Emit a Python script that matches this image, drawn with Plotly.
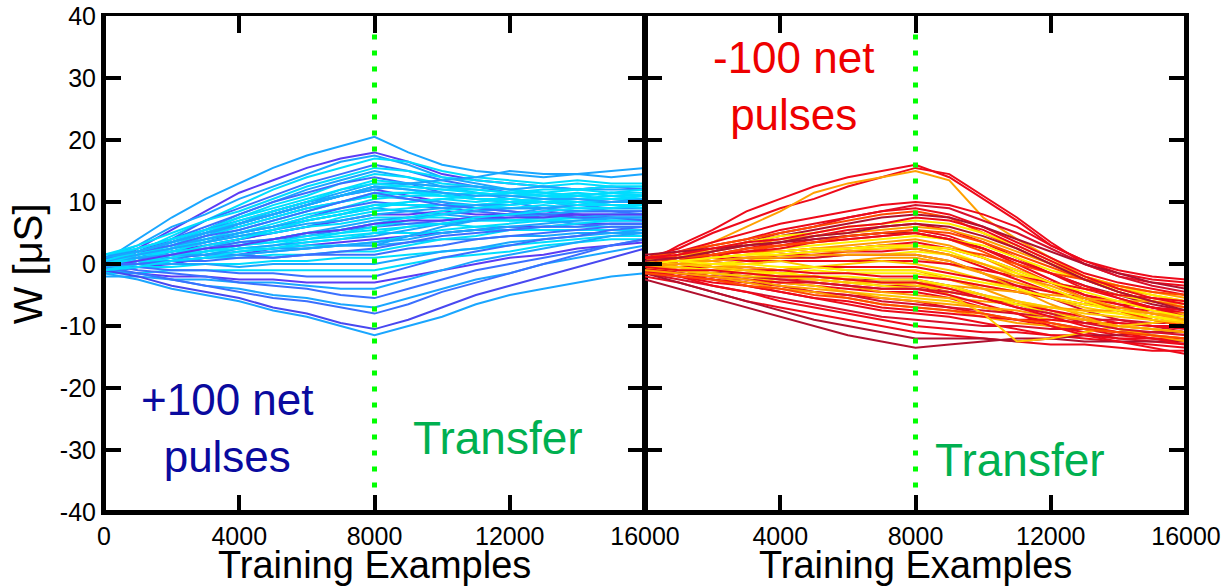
import plotly.graph_objects as go

# Training-example checkpoints (every 1000 examples)
steps = list(range(0, 16001, 1000))

# ---- +100 net pulses: conductance traces W [uS] at each checkpoint ----
p01 = [0.5, 4, 7.5, 10.5, 13, 15.5, 17.5, 19, 20.5, 18, 16, 15, 14.5, 14, 14.5, 14, 14.5]
p02 = [-0.5, 2.5, 5.5, 8.5, 11.5, 13.5, 15.5, 17, 18, 16.5, 14.5, 13.5, 13, 12.5, 12, 12.5, 12]
p03 = [1, 3, 6, 8, 10.5, 12.5, 14.5, 16.5, 17.5, 16, 14, 13, 12, 11.5, 11, 11.5, 11]
p04 = [0, 2, 4.5, 7, 9.5, 12, 14, 15.5, 17, 16.5, 15, 14, 13.5, 13, 13.5, 13, 13]
p05 = [-1, 1.5, 4, 7, 9, 11, 13, 14.5, 16, 15, 13.5, 12.5, 11.5, 11, 10.5, 10, 10]
p06 = [1.5, 3, 5, 7, 8.5, 10.5, 12.5, 14, 15.5, 15, 14, 13.5, 13, 12.5, 13, 12.5, 12.5]
p07 = [0, 2, 3.5, 5.5, 8, 10, 12, 13.5, 15, 14, 12.5, 11.5, 10.5, 10, 9.5, 9, 9]
p08 = [-0.5, 1.5, 3.5, 5.5, 7.5, 9.5, 11, 13, 14.5, 14, 13, 12.5, 12, 11.5, 11, 11.5, 11]
p09 = [0.5, 2, 4, 6, 8, 10, 11.5, 13, 14, 13, 11.5, 10.5, 10, 9, 8.5, 8.5, 8]
p10 = [1, 2.5, 4, 5.5, 7.5, 9, 10.5, 12, 13.5, 13, 12.5, 12, 11.5, 11, 11, 10.5, 10.5]
p11 = [-1, 0.5, 2.5, 4.5, 6.5, 8.5, 10, 11.5, 13, 13, 12.5, 12.5, 12, 12.5, 12, 12, 12]
p12 = [0, 1.5, 3, 5, 6.5, 8, 9.5, 11, 12.5, 12, 11, 10.5, 10, 10, 9.5, 9.5, 9.5]
p13 = [0.5, 2, 3.5, 5, 6.5, 8, 9.5, 11, 12, 11, 10, 9, 8.5, 8, 8, 7.5, 7.5]
p14 = [-0.5, 1, 2.5, 4, 5.5, 7, 8.5, 10, 11.5, 11.5, 11, 10.5, 10.5, 10, 10, 10, 10]
p15 = [1, 2, 3.5, 5, 6, 7.5, 9, 10, 11, 10.5, 10, 9.5, 9, 9, 8.5, 8.5, 8.5]
p16 = [0, 1, 2.5, 3.5, 5, 6.5, 8, 9, 10.5, 11, 11, 11.5, 11, 11, 11.5, 11, 11]
p17 = [-1, 0.5, 2, 3.5, 5, 6, 7.5, 9, 10, 9.5, 9, 8.5, 8, 7.5, 7.5, 7, 7]
p18 = [0.5, 1.5, 2.5, 4, 5, 6, 7.5, 8.5, 9.5, 9.5, 9.5, 9, 9, 9.5, 9, 9, 9]
p19 = [1.5, 2, 3, 4, 5, 6, 7, 8, 9, 8.5, 8, 7.5, 7, 7, 6.5, 6.5, 6.5]
p20 = [-0.5, 0.5, 1.5, 2.5, 4, 5, 6, 7.5, 8.5, 9, 9.5, 9.5, 10, 10, 10, 10, 10]
p21 = [0, 1, 2, 3, 4, 5, 6, 7, 8, 8, 8.5, 8, 8, 8.5, 8, 8, 8]
p22 = [1, 1.5, 2.5, 3.5, 4.5, 5, 6, 6.5, 7.5, 7.5, 7.5, 7, 7, 7, 7, 7, 7]
p23 = [-1.5, -0.5, 0.5, 2, 3, 4, 5, 6, 7, 7.5, 8, 8.5, 9, 9, 9.5, 9.5, 9.5]
p24 = [0, 1, 1.5, 2.5, 3.5, 4, 5, 5.5, 6.5, 6.5, 6.5, 6, 6, 6, 6, 6, 6]
p25 = [0.5, 1, 2, 2.5, 3.5, 4, 4.5, 5.5, 6, 6.5, 7, 7.5, 8, 8, 8.5, 8.5, 8.5]
p26 = [-0.5, 0, 1, 1.5, 2.5, 3, 4, 5, 5.5, 6, 6.5, 7, 7, 7.5, 7.5, 7.5, 7.5]
p27 = [1, 1.5, 2, 2.5, 3, 3.5, 4, 4.5, 5, 5, 5, 5.5, 5.5, 5.5, 5.5, 5.5, 5.5]
p28 = [0, 0.5, 1, 1.5, 2.5, 3, 3.5, 4, 4.5, 5.5, 6.5, 7, 7.5, 8, 8.5, 9, 9]
p29 = [-1, -0.5, 0, 1, 1.5, 2.5, 3, 3.5, 4, 4.5, 5, 5.5, 6, 6, 6.5, 6.5, 6.5]
p30 = [0.5, 1, 1.5, 2, 2.5, 2.5, 3, 3, 3.5, 4.5, 5.5, 6, 6.5, 7, 7.5, 8, 8]
p31 = [-0.5, 0, 0.5, 1, 1.5, 2, 2.5, 3, 3, 3.5, 4, 4, 4.5, 4.5, 5, 5, 5]
p32 = [0, 0.5, 0.5, 1, 1, 1.5, 1.5, 2, 2, 3, 4, 4.5, 5.5, 6, 6.5, 7, 7]
p33 = [1, 1, 1, 1.5, 1.5, 1, 1.5, 1.5, 1.5, 2.5, 3, 4, 4.5, 5, 5.5, 6, 6]
p34 = [-1, -0.5, -0.5, 0, 0, 0.5, 0.5, 1, 1, 1.5, 2, 2.5, 3, 3.5, 4, 4.5, 4.5]
p35 = [0.5, 0, 0, 0, -0.5, 0, 0, 0, 0, 1, 2, 2.5, 3.5, 4, 4.5, 5, 5.5]
p36 = [-1.5, -1.5, -1, -1, -1, -1, -1, -1, -1, 0, 1, 1.5, 2, 3, 3.5, 4, 4]
p37 = [0, -0.5, -1, -1, -1.5, -1.5, -2, -2, -2, -0.5, 1, 2, 3, 4, 4.5, 5.5, 6]
p38 = [-1, -1.5, -2, -2, -2.5, -2.5, -3, -3, -3, -2, -1, 0, 1, 1.5, 2.5, 3, 3.5]
p39 = [-2, -2, -2.5, -2.5, -3, -3, -3.5, -4, -4, -2.5, -1, 0.5, 1.5, 2.5, 3.5, 4.5, 5]
p40 = [0, -1, -1.5, -2, -3, -3.5, -4, -5, -5.5, -4, -2.5, -1, 0, 1, 2, 3, 4]
p41 = [-1, -1.5, -2.5, -3.5, -4, -5, -5.5, -6.5, -7, -5.5, -4, -2.5, -1.5, 0, 1, 2, 3]
p42 = [-0.5, -1.5, -2.5, -3.5, -4.5, -5.5, -6, -7, -8, -6.5, -4.5, -3, -1.5, 0, 1.5, 3, 4]
p43 = [-1, -2, -3.5, -4.5, -5.5, -7, -8, -9.5, -10.5, -9, -7, -5, -3.5, -2, -0.5, 1, 2.5]
p44 = [-1.5, -2.5, -4, -5, -6, -7.5, -8.5, -10, -11.5, -10, -8.5, -6.5, -5, -4, -3, -2, -1.5]
p45 = [0, 1, 2, 3.5, 4.5, 5.5, 7, 8, 9, 10, 10.5, 11, 11.5, 12, 12, 12.5, 12.5]
p46 = [-1, 0, 1, 2, 3, 4, 5, 5.5, 6.5, 7.5, 8.5, 9.5, 10, 10.5, 11, 11.5, 11.5]
p47 = [0.5, 1, 1.5, 1.5, 2, 2.5, 2.5, 3, 3, 4.5, 6, 7, 8, 9, 9.5, 10, 10.5]
p48 = [1, 2.5, 4, 5.5, 7, 8.5, 10, 11, 12, 13, 13.5, 14, 15, 14.5, 14.5, 15, 15.5]
p49 = [0, 1.5, 3, 4.5, 6, 7.5, 9, 10, 11, 11.5, 11.5, 11, 11.5, 11, 10.5, 11, 10.5]
p50 = [0.5, 1.5, 2.5, 3.5, 4.5, 5.5, 6.5, 7, 8, 8.5, 9, 9.5, 9.5, 10, 9.5, 10, 10.5]
p51 = [-1, 0, 1.5, 3, 4, 5.5, 7, 8, 9.5, 10, 10.5, 10, 10.5, 10, 9.5, 9.5, 9]
p52 = [1, 2, 3, 4.5, 5.5, 7, 8.5, 10, 11.5, 10.5, 9.5, 9, 8.5, 8, 7.5, 7.5, 7]
p53 = [0, 0.5, 1.5, 2, 3, 3.5, 4.5, 5, 6, 7, 8, 9, 9.5, 10, 10.5, 10.5, 11]
p54 = [-0.5, 0.5, 1.5, 2.5, 3, 4, 5, 5.5, 6.5, 7, 7, 7.5, 7.5, 7.5, 8, 8, 8]
p55 = [1.5, 2.5, 4, 5.5, 6.5, 8, 9.5, 11, 12.5, 12.5, 12, 12, 11.5, 11.5, 12, 11.5, 12]
p56 = [-0.5, 0, 0.5, 1, 1.5, 2, 2.5, 3, 3.5, 4, 5, 5.5, 6, 6.5, 7, 7.5, 7.5]
p57 = [0.5, 2, 3.5, 5, 7, 8.5, 10, 12, 13, 12.5, 12, 11.5, 11, 10.5, 10, 9.5, 9.5]
p58 = [0, 0, 0.5, 0.5, 1, 1, 1.5, 2, 2.5, 3.5, 4.5, 5, 5.5, 6, 6, 6.5, 6.5]
p59 = [-1, -0.5, 0.5, 1, 2, 2.5, 3.5, 4, 5, 6, 6.5, 7.5, 8, 8.5, 9, 9, 9.5]
p60 = [1, 2, 3.5, 5, 6.5, 8, 9.5, 11, 12.5, 12, 11.5, 11, 11, 10.5, 10.5, 10, 10]

# ---- -100 net pulses: conductance traces W [uS] at each checkpoint ----
m01 = [0, 3, 5.5, 8.5, 10.5, 12.5, 14, 15, 16, 14, 10.5, 7, 3, 0.5, -1, -2, -2.5]
m02 = [1, 2.5, 5, 7, 9, 10.5, 12.5, 14, 15.5, 14.5, 11, 7.5, 3.5, 0, -2, -3, -3.5]
m03 = [-0.5, 1.5, 3.5, 6, 8.5, 11.5, 13, 14, 15, 13.5, 7.5, 4, 1, -2, -4, -5, -6]
m04 = [0.5, 2, 3.5, 5, 6.5, 7.5, 8.5, 9.5, 10, 9.5, 8, 6, 3, 0.5, -1.5, -2.5, -3]
m05 = [-1, 0.5, 2, 3.5, 5, 6, 7.5, 8.5, 9.5, 9, 7, 5, 2.5, 0, -2, -3.5, -4.5]
m06 = [0, 1.5, 3, 4, 5.5, 6.5, 7.5, 8.5, 9, 8, 6, 3.5, 1, -1.5, -3, -4, -5]
m07 = [1, 2, 3, 4, 5, 6, 7, 8, 8.5, 7.5, 5, 2.5, 0, -2.5, -4.5, -6, -7]
m08 = [-0.5, 1, 2, 3.5, 4.5, 5.5, 6.5, 7.5, 8, 7.5, 6, 4, 2, 0, -1.5, -3, -4]
m09 = [0, 1, 2.5, 3.5, 4.5, 5, 6, 6.5, 7, 6.5, 5, 3, 0.5, -2, -3.5, -5, -6]
m10 = [-1, 0, 1, 2.5, 3.5, 4.5, 5.5, 6, 6.5, 5.5, 3.5, 1, -1.5, -4, -5.5, -7, -8]
m11 = [0.5, 1.5, 2, 3, 4, 4.5, 5, 5.5, 6, 5.5, 4, 2, 0, -2, -3.5, -4.5, -5.5]
m12 = [0, 0.5, 1.5, 2.5, 3, 4, 4.5, 5, 5.5, 4.5, 2.5, 0, -2.5, -5, -6.5, -8, -9]
m13 = [1.5, 2, 2.5, 3, 3.5, 4, 4.5, 5, 5, 4, 2.5, 0.5, -1.5, -3.5, -5, -6.5, -7.5]
m14 = [-0.5, 0, 1, 1.5, 2.5, 3, 3.5, 4, 4.5, 4, 3, 1, -1, -2.5, -4, -5.5, -6.5]
m15 = [0, 0.5, 1, 1.5, 2, 2.5, 3, 3.5, 4, 3, 1, -1.5, -4, -6, -7.5, -9, -10]
m16 = [-1.5, -1, 0, 0.5, 1.5, 2, 2.5, 3, 3.5, 2.5, 1, -1, -3, -5, -6, -7, -8]
m17 = [1, 1, 1.5, 2, 2, 2.5, 2.5, 3, 3, 2.5, 1.5, 0, -1.5, -2.5, -3.5, -4.5, -5]
m18 = [0, 0.5, 0.5, 1, 1.5, 1.5, 2, 2, 2.5, 1.5, -0.5, -2.5, -4.5, -6, -7.5, -8.5, -9.5]
m19 = [-1, -0.5, 0, 0.5, 1, 1, 1.5, 1.5, 2, 1.5, 0, -1.5, -3, -4, -5, -6, -7]
m20 = [0.5, 0.5, 1, 1, 1, 1, 1.5, 1.5, 1.5, 0.5, -1.5, -3.5, -5.5, -7.5, -9, -10, -11]
m21 = [-0.5, -0.5, 0, 0, 0.5, 0.5, 0.5, 1, 1, 0, -1.5, -3, -4.5, -6, -7, -8, -8.5]
m22 = [1, 1, 1, 0.5, 0.5, 0.5, 0.5, 0.5, 0.5, 0, -1, -2, -3, -4, -5, -5.5, -6]
m23 = [0, 0.5, -0.5, 0, 0.5, -0.5, 0, 0.5, 0, -1, -2.5, -4, -5.5, -7, -8, -9, -10]
m24 = [-1, -0.5, -1, -0.5, -1, -0.5, -0.5, -0.5, -0.5, -1.5, -2.5, -3.5, -4.5, -5.5, -6.5, -7, -7.5]
m25 = [0.5, 0, -0.5, -0.5, -1, -0.5, -1, -1, -1, -2.5, -4, -6, -7.5, -9, -10.5, -11.5, -12]
m26 = [-0.5, -0.5, -1, -1, -1.5, -1, -1.5, -1.5, -1.5, -2.5, -3.5, -4.5, -5.5, -6.5, -7.5, -8.5, -9]
m27 = [0, -0.5, -0.5, -1, -1, -1.5, -1.5, -2, -2, -2.5, -3.5, -4.5, -5.5, -6.5, -7, -7.5, -8]
m28 = [-1, -1, -1.5, -1.5, -2, -2, -2.5, -2.5, -2.5, -3.5, -5, -6.5, -8, -9, -10, -10.5, -11]
m29 = [0.5, 0, -0.5, -1, -1.5, -2, -2.5, -3, -3, -3.5, -4, -4.5, -5, -5.5, -6, -6, -6.5]
m30 = [-0.5, -1, -1.5, -2, -2.5, -2.5, -3, -3.5, -3.5, -4.5, -5.5, -6.5, -7.5, -8.5, -9.5, -10, -10.5]
m31 = [0, -0.5, -1, -1.5, -2, -2.5, -3, -3.5, -4, -4.5, -5.5, -6, -7, -7.5, -8, -8.5, -9]
m32 = [-1, -1.5, -2, -2.5, -3, -3.5, -4, -4.5, -4.5, -5.5, -7, -8, -9.5, -10.5, -11.5, -12, -12.5]
m33 = [-0.5, -1, -1.5, -2, -2.5, -3, -3.5, -4.5, -5, -5.5, -6, -6.5, -7, -7.5, -7.5, -8, -8]
m34 = [0, -0.5, -1.5, -2, -3, -3.5, -4.5, -5, -5.5, -6, -7, -8, -9, -9.5, -10, -10.5, -11]
m35 = [-1.5, -2, -2.5, -3, -3.5, -4.5, -5, -5.5, -6, -7, -8, -9, -10, -11, -12, -12.5, -13]
m36 = [-0.5, -1.5, -2, -3, -3.5, -4.5, -5, -6, -6.5, -7, -7.5, -8, -8.5, -9, -9, -9.5, -9.5]
m37 = [0, -1, -2, -3, -4, -4.5, -5.5, -6.5, -7, -7.5, -8.5, -9.5, -10, -10.5, -11, -11.5, -12]
m38 = [-1, -2, -3, -3.5, -4.5, -5.5, -6, -7, -7.5, -8, -8.5, -9, -9, -9.5, -9.5, -10, -10]
m39 = [-0.5, -1.5, -2.5, -3.5, -4.5, -5.5, -6.5, -7.5, -8, -8.5, -9.5, -10.5, -11.5, -12, -12.5, -13, -13.5]
m40 = [-1.5, -2.5, -3.5, -4.5, -5.5, -6.5, -7.5, -8.5, -9, -9.5, -10, -10, -10.5, -10.5, -11, -11, -11]
m41 = [-1, -2, -3.5, -4.5, -6, -7, -8, -9, -10, -10.5, -11, -11, -11.5, -11.5, -12, -12, -12]
m42 = [-2, -3, -4.5, -6, -7, -8, -9, -10, -11, -11.5, -12, -12.5, -13, -13, -13.5, -14, -14]
m43 = [-1.5, -3, -4.5, -6, -7.5, -9, -10, -11, -12, -12, -12, -12.5, -12, -12.5, -12.5, -12.5, -12.5]
m44 = [-2.5, -4, -5.5, -7, -8.5, -10, -11.5, -12.5, -13.5, -13, -12.5, -12, -12, -11.5, -11.5, -11, -11]
m45 = [0.5, 0, -0.5, -1, -1.5, -2, -2.5, -3, -3, -5, -8, -12.5, -12, -11, -10, -9.5, -9]
m46 = [-1, -1.5, -2, -2.5, -3, -3, -3.5, -4, -4, -5, -6.5, -8, -10, -11.5, -12.5, -13.5, -14.5]
m47 = [0, 0.5, 1, 1.5, 2, 2.5, 2.5, 3, 3, 2, 0, -2, -4, -6, -7.5, -9, -10]
m48 = [0, 0.5, 0.5, 1, 1, 1.5, 1.5, 1.5, 1.5, 0.5, -1.5, -4, -6.5, -8.5, -10.5, -11.5, -12.5]
m49 = [-0.5, -1, -1, -1.5, -1.5, -2, -2, -2.5, -2.5, -3.5, -5, -6.5, -8, -9, -10, -10.5, -11]
m50 = [0, 1, 1.5, 2, 3, 3.5, 4, 4.5, 5, 4, 2, -0.5, -3, -5.5, -7.5, -9, -10]
m51 = [0, 0.5, 1.5, 2, 2.5, 3.5, 4, 4.5, 5, 4, 2.5, 0.5, -1.5, -3.5, -5.5, -7, -8.5]
m52 = [-0.5, 0, 0.5, 1, 1.5, 2, 2, 2.5, 2.5, 1.5, 0, -2, -3.5, -5.5, -7, -8, -9]
m53 = [0.5, 0.5, 0, 0, -0.5, -0.5, -1, -1, -1, -2, -3, -4, -5.5, -6.5, -7.5, -8.5, -9.5]
m54 = [-1, -1.5, -2, -2, -2.5, -3, -3.5, -4, -4, -4.5, -5.5, -7, -8, -9.5, -10.5, -11, -11.5]
m55 = [0, 1, 1.5, 2.5, 3, 3.5, 4.5, 5, 5.5, 5, 3.5, 1.5, -0.5, -2.5, -4.5, -6, -7]
m56 = [-0.5, -1, -1.5, -2, -2, -2.5, -3, -3, -3.5, -4, -5, -6, -7, -8, -8.5, -9, -9.5]
m57 = [1, 1.5, 2.5, 3.5, 4, 5, 6, 6.5, 7.5, 7, 5.5, 3, 0.5, -2, -4, -5.5, -6.5]
m58 = [-1, -1.5, -2, -2.5, -3.5, -4, -4.5, -5.5, -6, -6.5, -7, -7.5, -8.5, -9, -10, -10.5, -11]
m59 = [0, 0.5, 1, 1.5, 1.5, 2, 2.5, 2.5, 3, 2.5, 1, -1, -3, -4.5, -6, -7.5, -8.5]
m60 = [-0.5, -1, -1, -1.5, -2, -2, -2.5, -3, -3, -4, -5.5, -7, -8.5, -10, -11, -12, -13]
m61 = [0.5, 1, 2, 3, 3.5, 4.5, 5, 6, 6.5, 6, 4.5, 2.5, 0, -2.5, -4.5, -6, -7.5]
m62 = [-1.5, -2, -2.5, -3.5, -4, -5, -5.5, -6.5, -7, -7.5, -8, -9, -9.5, -10.5, -11, -11.5, -12]

plus_series = [p01, p02, p03, p04, p05, p06, p07, p08, p09, p10, p11, p12, p13, p14, p15, p16,
               p17, p18, p19, p20, p21, p22, p23, p24, p25, p26, p27, p28, p29, p30, p31, p32,
               p33, p34, p35, p36, p37, p38, p39, p40, p41, p42, p43, p44, p45, p46, p47, p48,
               p49, p50, p51, p52, p53, p54, p55, p56, p57, p58, p59, p60]
minus_series = [m01, m02, m03, m04, m05, m06, m07, m08, m09, m10, m11, m12, m13, m14, m15, m16,
                m17, m18, m19, m20, m21, m22, m23, m24, m25, m26, m27, m28, m29, m30, m31, m32,
                m33, m34, m35, m36, m37, m38, m39, m40, m41, m42, m43, m44, m45, m46, m47, m48,
                m49, m50, m51, m52, m53, m54, m55, m56, m57, m58, m59, m60, m61, m62]

# Line colours (cool palette for potentiation, hot palette for depression)
CY, SK, BL, VI, VB = "#00DDFF", "#1AA6FF", "#3A70FF", "#5A3CF5", "#4848F0"
plus_colors = [SK, VI, SK, CY, BL, CY, SK, CY, BL, CY, SK, CY, VI, CY, SK, CY,
               BL, CY, SK, CY, VI, CY, SK, CY, BL, CY, CY, SK, VI, CY, SK, CY,
               BL, CY, SK, CY, BL, VI, SK, BL, SK, BL, VB, SK, CY, CY, SK, SK,
               CY, SK, CY, BL, CY, VI, CY, SK, CY, BL, CY, SK]
RD, CR, DR, OR, OG, YE, GD = "#EE0A1A", "#D8102C", "#B0102E", "#FF4A00", "#FFA000", "#FFEE00", "#FFC800"
minus_colors = [RD, RD, OG, RD, CR, RD, OR, DR, YE, RD, OG, RD, DR, YE, OG, RD,
                OR, RD, YE, CR, OG, RD, GD, RD, OG, YE, RD, DR, OG, RD, YE, RD,
                OG, GD, RD, CR, OG, RD, RD, CR, RD, RD, DR, DR, GD, RD, YE, OG,
                YE, OR, RD, OG, YE, CR, OR, GD, RD, OG, YE, RD, DR, OR]

fig = go.Figure()

for ys, col in zip(plus_series, plus_colors):
    fig.add_trace(go.Scatter(x=steps, y=ys, mode="lines", xaxis="x", yaxis="y",
                             line=dict(color=col, width=2), hoverinfo="skip"))
for ys, col in zip(minus_series, minus_colors):
    fig.add_trace(go.Scatter(x=steps, y=ys, mode="lines", xaxis="x2", yaxis="y2",
                             line=dict(color=col, width=2), hoverinfo="skip"))

# Transfer marker at 8000 examples in both panels
transfer_x = 8000
for xa, ya in (("x", "y"), ("x2", "y2")):
    fig.add_trace(go.Scatter(x=[transfer_x, transfer_x], y=[37, -37], mode="lines",
                             xaxis=xa, yaxis=ya, hoverinfo="skip",
                             line=dict(color="#00FF00", width=5, dash="5px,11px")))

FONT = "Arial, Liberation Sans, sans-serif"
x_ticks = [0, 4000, 8000, 12000, 16000]
y_ticks = [-40, -30, -20, -10, 0, 10, 20, 30, 40]
y_labels = ["-40", "-30", "-20", "-10", "0", "10", "20", "30", "40"]

axis_common = dict(range=[0, 16000], tickmode="array", tickvals=x_ticks, ticks="inside",
                   ticklen=17, tickwidth=4, tickcolor="black", showline=True, linewidth=3,
                   linecolor="black", mirror="ticks", showgrid=False, zeroline=False,
                   automargin=False,
                   tickfont=dict(family=FONT, size=25, color="black"))
y_common = dict(range=[-40, 40], tickmode="array", tickvals=y_ticks, ticktext=y_labels,
                ticks="inside", ticklen=17, tickwidth=4, tickcolor="black",
                showline=True, linewidth=3, linecolor="black", mirror="ticks",
                showgrid=False, zeroline=False, automargin=False,
                tickfont=dict(family=FONT, size=25, color="black"))

# Heavier outer frame edges
frame = [
    dict(type="line", xref="paper", yref="paper", x0=0, x1=0, y0=0, y1=1),
    dict(type="line", xref="paper", yref="paper", x0=1, x1=1, y0=0, y1=1),
    dict(type="line", xref="paper", yref="paper", x0=0, x1=1, y0=0, y1=0),
]
for s in frame:
    s.update(line=dict(color="black", width=4), layer="above")

fig.update_layout(
    width=1227, height=587,
    margin=dict(l=104, r=41, t=16, b=75),
    paper_bgcolor="white", plot_bgcolor="white",
    showlegend=False,
    shapes=frame,
    xaxis=dict(domain=[0, 0.5], anchor="y",
               ticktext=["0", "4000", "8000", "12000", "16000"], **axis_common),
    xaxis2=dict(domain=[0.5, 1], anchor="y2",
                ticktext=["", "4000", "8000", "12000", "16000"], **axis_common),
    yaxis=dict(domain=[0, 1], anchor="x", **y_common),
    yaxis2=dict(domain=[0, 1], anchor="x2", showticklabels=False, **y_common),
)

annotations = [
    dict(text="+100 net<br>pulses", x=3667, y=-26.5, xref="x", yref="y",
         font=dict(family=FONT, size=44, color="#0A0A9E")),
    dict(text="Transfer", x=11638, y=-28, xref="x", yref="y",
         font=dict(family=FONT, size=46, color="#00B050")),
    dict(text="-100 net<br>pulses", x=4377, y=28.7, xref="x2", yref="y2",
         font=dict(family=FONT, size=44, color="#EE0000")),
    dict(text="Transfer", x=11105, y=-31.6, xref="x2", yref="y2",
         font=dict(family=FONT, size=46, color="#00B050")),
    dict(text="Training Examples", x=0.25, y=-0.106, xref="paper", yref="paper",
         font=dict(family=FONT, size=38, color="black")),
    dict(text="Training Examples", x=0.75, y=-0.106, xref="paper", yref="paper",
         font=dict(family=FONT, size=38, color="black")),
    dict(text="W [\u03bcS]", x=-0.07, y=0.5, xref="paper", yref="paper", textangle=-90,
         font=dict(family=FONT, size=40, color="black")),
]
for a in annotations:
    a.update(showarrow=False, xanchor="center", yanchor="middle")
fig.update_layout(annotations=annotations)

fig.write_html("out.html")
